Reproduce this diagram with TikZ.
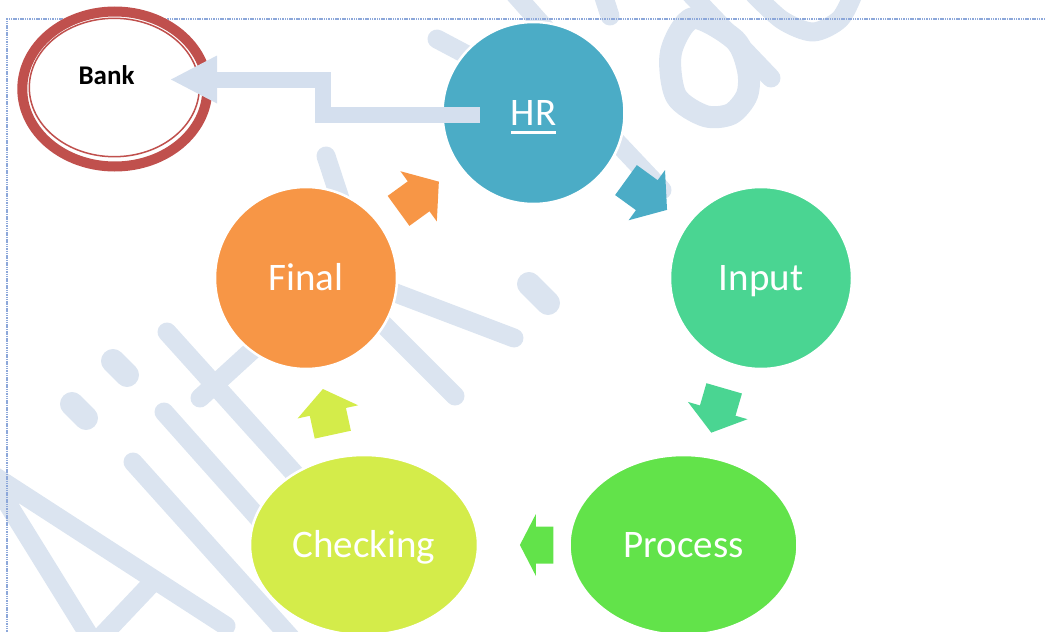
\documentclass[tikz,border=0pt]{standalone}
\usepackage{fontspec}
\setmainfont{Carlito}
\usetikzlibrary{calc,shapes.geometric}

\definecolor{hrblue}{HTML}{4BACC6}
\definecolor{inputgreen}{HTML}{4AD592}
\definecolor{processgreen}{HTML}{62E34A}
\definecolor{checklime}{HTML}{D4EC4A}
\definecolor{finalorange}{HTML}{F79646}
\definecolor{bankred}{HTML}{C0504D}
\definecolor{flowblue}{HTML}{D4DFEE}
\definecolor{wmblue}{HTML}{DBE4F0}
\definecolor{borderblue}{HTML}{8DA8DA}

% thick underline under a label
\newcommand\stageul[1]{\setbox0=\hbox{#1}\rlap{\rule[-8.7pt]{\wd0}{3.2pt}}\box0}

% block arrow: #1 colour, #2 tail point, #3 tip point, #4 head length
\newcommand\cyclearrow[4]{%
  \path (#2) coordinate (ca-t) (#3) coordinate (ca-p);
  \path ($(ca-p)!#4!(ca-t)$) coordinate (ca-b);
  \fill[#1] ($(ca-t)!18.5pt!90:(ca-p)$) -- ($(ca-b)!18.5pt!90:(ca-p)$)
    -- ($(ca-b)!31pt!90:(ca-p)$) -- (ca-p) -- ($(ca-b)!31pt!-90:(ca-p)$)
    -- ($(ca-b)!18.5pt!-90:(ca-p)$) -- ($(ca-t)!18.5pt!-90:(ca-p)$) -- cycle;
}

\begin{document}
\begin{tikzpicture}[x=1pt, y=-1pt,
  stagenode/.style={circle, minimum size=182pt, inner sep=0pt, draw=white,
    line width=2.5pt, text=white, font=\fontsize{39}{47}\selectfont,
    text height=24.6pt, text depth=0pt},
  stageoval/.style={stagenode, ellipse, minimum width=228pt, minimum height=180pt},
  wm/.style={draw=wmblue, line width=19pt, line cap=round, line join=round},
  wmdot/.style={wm, line width=24pt},
  pageborder/.style={draw=borderblue, line width=1.3pt, dash pattern=on 1.5pt off 0.8pt},
  bankring/.style={draw=bankred, line width=10pt},
  bankinner/.style={draw=bankred, line width=1.5pt},
  banktext/.style={text=black, font=\bfseries\fontsize{27}{32}\selectfont},
  bankflow/.style={draw=flowblue, line width=16pt}
]
\useasboundingbox (0,0) rectangle (1045,632);
\clip (0,0) rectangle (1045,632);

% watermark lettering
\draw[wm] (92,640) -- (-12,472) -- (226,626);
\draw[wm] (152,583) -- (98,640);
\draw[wmdot] (72,404) -- (86,418);
\draw[wm] (133,462) -- (300,648);
\draw[wmdot] (113,361) -- (127,375);
\draw[wm] (164,412) -- (302,567);
\draw[wm] (167,332) -- (321,503);
\draw[wm] (200,398) -- (258,345);
\draw[wm] (326,156) -- (350,229);
\draw[wm] (364,281) -- (514,338);
\draw[wm] (330,271) -- (455,396);
\draw[wmdot] (529,284) -- (548,303);
\draw[wm] (437,39) -- (488,66);
\draw[wm] (505,-17) -- (560,45);
\draw[wm] (600,-15) -- (610,16);
\draw[wm] (593,117) -- (662,190);
\draw[wm] (685,-12) -- (771,78);
\draw[wm, line width=22pt] plot[smooth cycle] coordinates
  {(693,18) (671,52) (676,96) (705,116) (731,114) (747,95) (748,70) (735,40)};
\draw[wm] plot[smooth] coordinates {(752,-8) (782,20) (813,32) (840,19) (854,-8)};

% page border
\draw[pageborder] (1045,19) -- (7,19) -- (7,640);

% cycle stages
\node[stagenode, fill=hrblue] (HR) at (533.5,113) {\stageul{HR}};
\node[stagenode, fill=inputgreen] (Input) at (761,278) {Input};
\node[stageoval, fill=processgreen] (Process) at (683.5,545) {Process};
\node[stageoval, fill=checklime] (Checking) at (364,545) {Checking};
\node[stagenode, fill=finalorange] (Final) at (306,278) {Final};

% bank
\node[ellipse, minimum width=195pt, minimum height=165pt, inner sep=0pt, fill=white] (Bank) at (114.8,89) {};
\draw[bankring] (Bank.center) ellipse [x radius=92.5, y radius=77.5];
\draw[bankinner] ($(Bank.center)+(-0.5,-1.5)$) ellipse [x radius=85, y radius=69.2];
\node[banktext, anchor=base] (banklabel) at (106.5,84) {Bank};

% arrows between stages
\cyclearrow{hrblue}{$(HR)!0.4065!(Input)$}{$(HR)!0.587!(Input)$}{25pt}
\cyclearrow{inputgreen}{$(Input)!0.417!(Process)+(-4.5,-1)$}{$(Input)!0.583!(Process)+(-4.5,-1)$}{23pt}
\cyclearrow{processgreen}{$(Process)!0.4075!(Checking)$}{$(Process)!0.512!(Checking)$}{16pt}
\cyclearrow{checklime}{$(Checking)!0.417!(Final)+(-7,1)$}{$(Checking)!0.588!(Final)+(-7,1)$}{23.4pt}
\cyclearrow{finalorange}{$(Final)!0.4068!(HR)$}{$(Final)!0.584!(HR)$}{25pt}

% elbow arrow from HR to the bank
\coordinate (hrout) at ($(HR.center)+(-53.5,1.7)$);
\coordinate (banktip) at ($(Bank.center)+(56.2,-9.5)$);
\draw[bankflow] (hrout) -- (323,114.7) |- ($(banktip)+(44,0)$);
\fill[flowblue] ($(banktip)+(46,-24)$) -- (banktip) -- ($(banktip)+(46,24)$) -- cycle;
\end{tikzpicture}
\end{document}
